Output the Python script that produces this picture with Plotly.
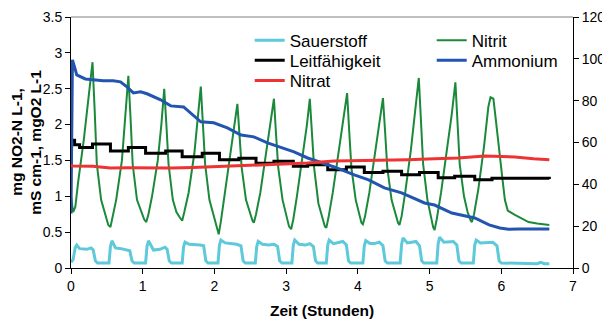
import plotly.graph_objects as go

FONT = "Liberation Sans, Arial, sans-serif"

# ---------------- data ----------------
sauer_t = [0.00, 0.03, 0.06, 0.08, 0.12, 0.22, 0.28, 0.31, 0.34, 0.37,
           0.53, 0.55, 0.57, 0.62, 0.70, 0.76, 0.82, 0.85, 0.88,
           1.04, 1.06, 1.08, 1.15, 1.24, 1.31, 1.34, 1.37, 1.40,
           1.55, 1.57, 1.59, 1.65, 1.74, 1.80, 1.85, 1.88, 1.91,
           2.05, 2.07, 2.09, 2.15, 2.24, 2.31, 2.37, 2.40, 2.43,
           2.57, 2.59, 2.61, 2.67, 2.76, 2.83, 2.88, 2.91, 2.94,
           3.08, 3.10, 3.12, 3.18, 3.27, 3.33, 3.38, 3.41, 3.44,
           3.56, 3.58, 3.60, 3.66, 3.72, 3.79, 3.84, 3.87, 3.90,
           4.07, 4.09, 4.11, 4.17, 4.23, 4.30, 4.35, 4.38, 4.41,
           4.59, 4.61, 4.63, 4.69, 4.75, 4.81, 4.86, 4.89, 4.92,
           5.10, 5.12, 5.14, 5.20, 5.27, 5.33, 5.38, 5.41, 5.44,
           5.61, 5.63, 5.65, 5.71, 5.80, 5.88, 5.94, 5.97, 6.00,
           6.30, 6.50, 6.55, 6.60, 6.67]
sauer_v = [0.08, 0.12, 0.29, 0.32, 0.27, 0.26, 0.28, 0.25, 0.10, 0.07,
           0.07, 0.30, 0.38, 0.28, 0.27, 0.26, 0.24, 0.10, 0.07,
           0.07, 0.30, 0.38, 0.25, 0.26, 0.29, 0.26, 0.10, 0.07,
           0.07, 0.30, 0.36, 0.33, 0.33, 0.32, 0.31, 0.10, 0.07,
           0.07, 0.32, 0.39, 0.35, 0.34, 0.33, 0.31, 0.10, 0.07,
           0.07, 0.30, 0.37, 0.33, 0.32, 0.33, 0.30, 0.10, 0.07,
           0.07, 0.32, 0.39, 0.33, 0.32, 0.34, 0.30, 0.10, 0.07,
           0.07, 0.32, 0.39, 0.34, 0.35, 0.37, 0.32, 0.10, 0.07,
           0.07, 0.31, 0.38, 0.34, 0.34, 0.36, 0.31, 0.10, 0.07,
           0.07, 0.33, 0.42, 0.35, 0.36, 0.37, 0.31, 0.10, 0.07,
           0.07, 0.34, 0.43, 0.36, 0.36, 0.37, 0.32, 0.10, 0.07,
           0.07, 0.32, 0.39, 0.35, 0.36, 0.36, 0.31, 0.10, 0.07,
           0.06, 0.06, 0.08, 0.06, 0.06]

nitrit_t = [0.00, 0.03, 0.06, 0.10, 0.18, 0.25, 0.30, 0.33, 0.36, 0.42, 0.47, 0.52,
            0.55, 0.58, 0.63, 0.71, 0.76, 0.80, 0.83, 0.86, 0.92, 0.97, 1.02,
            1.05, 1.08, 1.13, 1.21, 1.26, 1.30, 1.33, 1.36, 1.42, 1.47, 1.52,
            1.55, 1.58, 1.64, 1.72, 1.77, 1.81, 1.84, 1.87, 1.93, 1.98, 2.03,
            2.06, 2.09, 2.14, 2.22, 2.28, 2.32, 2.35, 2.38, 2.44, 2.49, 2.53,
            2.55, 2.58, 2.64, 2.72, 2.78, 2.83, 2.86, 2.89, 2.95, 3.00, 3.04,
            3.07, 3.10, 3.15, 3.23, 3.29, 3.33, 3.36, 3.39, 3.45, 3.50, 3.54,
            3.56, 3.59, 3.65, 3.73, 3.80, 3.85, 3.88, 3.91, 3.97, 4.02, 4.05,
            4.07, 4.10, 4.16, 4.24, 4.30, 4.35, 4.38, 4.41, 4.47, 4.52, 4.56,
            4.58, 4.61, 4.66, 4.74, 4.80, 4.85, 4.88, 4.91, 4.97, 5.02, 5.05,
            5.07, 5.10, 5.16, 5.24, 5.31, 5.36, 5.39, 5.42, 5.48, 5.53, 5.57,
            5.59, 5.62, 5.68, 5.76, 5.82, 5.85, 5.89, 5.92, 5.97, 6.01, 6.05,
            6.09, 6.19, 6.30, 6.38, 6.50, 6.60, 6.67]
nitrit_v = [1.00, 0.78, 0.85, 1.20, 1.80, 2.40, 2.87, 2.20, 1.45, 0.95, 0.78, 0.60,
            0.57, 0.70, 0.95, 1.50, 2.10, 2.68, 2.10, 1.45, 0.95, 0.80, 0.68,
            0.64, 0.75, 1.00, 1.50, 2.00, 2.50, 2.00, 1.45, 0.95, 0.78, 0.70,
            0.66, 0.78, 1.05, 1.60, 2.10, 2.53, 2.00, 1.45, 0.95, 0.75, 0.58,
            0.47, 0.65, 1.00, 1.55, 2.00, 2.29, 1.85, 1.40, 0.95, 0.78, 0.66,
            0.63, 0.75, 1.05, 1.60, 2.05, 2.36, 1.85, 1.40, 0.95, 0.75, 0.58,
            0.54, 0.68, 1.00, 1.55, 2.00, 2.36, 1.85, 1.40, 0.90, 0.70, 0.58,
            0.56, 0.70, 1.05, 1.60, 2.10, 2.44, 1.90, 1.40, 0.95, 0.72, 0.63,
            0.61, 0.72, 1.05, 1.60, 2.00, 2.37, 1.90, 1.40, 0.95, 0.75, 0.63,
            0.60, 0.72, 1.05, 1.65, 2.20, 2.65, 2.05, 1.45, 0.95, 0.70, 0.57,
            0.53, 0.68, 1.05, 1.60, 2.15, 2.59, 2.00, 1.45, 1.00, 0.78, 0.67,
            0.64, 0.75, 1.10, 1.70, 2.25, 2.38, 2.36, 2.10, 1.70, 1.30, 0.95,
            0.80, 0.74, 0.68, 0.64, 0.62, 0.61, 0.60]

leit_t = [0.00, 0.05, 0.12, 0.30, 0.55, 0.80, 1.04, 1.32, 1.55, 1.83, 2.07, 2.34,
          2.58, 2.83, 3.10, 3.30, 3.58, 3.84, 4.09, 4.35, 4.61, 4.86, 5.12, 5.35,
          5.63, 5.87, 6.67]
leit_v = [1.78, 1.72, 1.68, 1.73, 1.63, 1.68, 1.60, 1.63, 1.55, 1.60, 1.51, 1.53,
          1.46, 1.49, 1.42, 1.44, 1.37, 1.41, 1.33, 1.35, 1.30, 1.33, 1.26, 1.28,
          1.23, 1.25, 1.24]

amm_t = [0.00, 0.01, 0.02, 0.05, 0.08, 0.20, 0.45, 0.59, 0.69, 0.78, 0.87, 0.97,
         1.06, 1.25, 1.39, 1.57, 1.81, 1.99, 2.18, 2.37, 2.55, 2.74, 2.93, 3.11,
         3.30, 3.45, 3.67, 3.95, 4.15, 4.37, 4.61, 4.93, 5.07, 5.31, 5.54, 5.63,
         5.83, 5.98, 6.10, 6.25, 6.67]
amm_v = [26.0, 80.0, 99.5, 96.0, 92.3, 90.4, 89.5, 89.5, 89.0, 86.6, 83.7, 84.2,
         83.3, 80.4, 77.5, 77.0, 69.9, 69.4, 67.0, 63.6, 62.7, 59.8, 57.4, 55.5,
         52.6, 51.0, 48.3, 44.5, 42.1, 38.3, 35.9, 31.1, 30.1, 26.3, 24.4, 23.9,
         20.6, 19.1, 18.5, 18.7, 18.7]

nitrat_t = [0.00, 0.03, 0.30, 0.55, 0.80, 1.00, 1.40, 1.70, 1.95, 2.30, 2.60, 3.00,
            3.30, 3.67, 4.00, 4.37, 4.70, 5.07, 5.40, 5.77, 6.00, 6.19, 6.45, 6.67]
nitrat_v = [49.0, 48.8, 48.6, 47.8, 47.9, 47.8, 47.8, 48.0, 48.3, 48.8, 49.3, 49.8,
            50.2, 51.2, 51.3, 51.7, 51.8, 52.2, 52.6, 53.6, 53.4, 53.1, 52.2, 51.7]

x_ticks = [0, 1, 2, 3, 4, 5, 6, 7]
y_ticks = [0, 0.5, 1, 1.5, 2, 2.5, 3, 3.5]
y2_ticks = [0, 20, 40, 60, 80, 100, 120]

# ---------------- figure ----------------
fig = go.Figure()
fig.add_trace(go.Scatter(x=sauer_t, y=sauer_v, name="Sauerstoff", mode="lines", legend="legend",
                         line=dict(color="#5DC9DA", width=3)))
fig.add_trace(go.Scatter(x=nitrit_t, y=nitrit_v, name="Nitrit", mode="lines", legend="legend",
                         line=dict(color="#1A8A3A", width=2)))
fig.add_trace(go.Scatter(x=leit_t, y=leit_v, name="Leitfähigkeit", mode="lines", legend="legend2",
                         line=dict(color="#000000", width=3, shape="hv")))
fig.add_trace(go.Scatter(x=amm_t, y=amm_v, name="Ammonium", mode="lines", yaxis="y2", legend="legend2",
                         line=dict(color="#2155B0", width=3)))
fig.add_trace(go.Scatter(x=nitrat_t, y=nitrat_v, name="Nitrat", mode="lines", yaxis="y2", legend="legend3",
                         line=dict(color="#EE3333", width=3)))

axis_common = dict(showgrid=False, zeroline=False, showline=True, linecolor="#000000",
                   linewidth=1, ticks="outside", ticklen=5, tickcolor="#000000", automargin=False,
                   tickfont=dict(family=FONT, size=14, color="#000000"))

def leg(ypos):
    return dict(orientation="h", x=0.356, y=ypos, xanchor="left", yanchor="middle",
                bgcolor="rgba(0,0,0,0)", entrywidth=137, entrywidthmode="pixels",
                font=dict(family=FONT, size=17, color="#000000"), traceorder="normal")

# the page places the figure 8 px from the top-left corner, so the figure is
# 8 px smaller than the window and its margins are shifted accordingly
fig.update_layout(
    width=602, height=312,
    margin=dict(l=63, r=37, t=9, b=52, autoexpand=False),
    paper_bgcolor="white", plot_bgcolor="white",
    font=dict(family=FONT, size=14, color="#000000"),
    showlegend=True,
    legend=leg(0.906), legend2=leg(0.826), legend3=leg(0.745),
    xaxis=dict(range=[0, 7], tickvals=x_ticks, **axis_common),
    yaxis=dict(range=[0, 3.5], tickvals=y_ticks, ticktext=[str(v) for v in y_ticks], **axis_common),
    yaxis2=dict(range=[0, 120], tickvals=y2_ticks, overlaying="y", side="right", **axis_common),
    yaxis3=dict(range=[0, 120], tickvals=y2_ticks, overlaying="y", side="right", showline=False,
                showgrid=False, zeroline=False, ticks="inside", ticklen=4, tickcolor="#000000",
                showticklabels=False, automargin=False),
)

title_font = dict(family=FONT, size=15.5, color="#000000")
fig.add_annotation(text="<b>mg NO2-N L-1,</b>", textangle=-90, xref="paper", yref="paper",
                   x=-0.108, y=0.502, xanchor="center", yanchor="middle", showarrow=False, font=title_font)
fig.add_annotation(text="<b>mS cm-1, mgO2 L-1</b>", textangle=-90, xref="paper", yref="paper",
                   x=-0.070, y=0.502, xanchor="center", yanchor="middle", showarrow=False, font=title_font)
fig.add_annotation(text="<b>Zeit (Stunden)</b>", xref="paper", yref="paper",
                   x=0.5, y=-0.171, xanchor="center", yanchor="middle", showarrow=False, font=title_font)
fig.add_annotation(text="<b>mg NH4-N L-1, mg NO3-N L-1</b>", textangle=-90,
                   xref="paper", yref="paper", x=1.062, y=0.55, xanchor="left", yanchor="middle",
                   showarrow=False, font=title_font)
# top frame line (grey)
fig.add_shape(type="line", xref="paper", yref="paper", x0=0, x1=1, y0=1, y1=1,
              line=dict(color="#808080", width=1))

fig.write_html("out.html")
